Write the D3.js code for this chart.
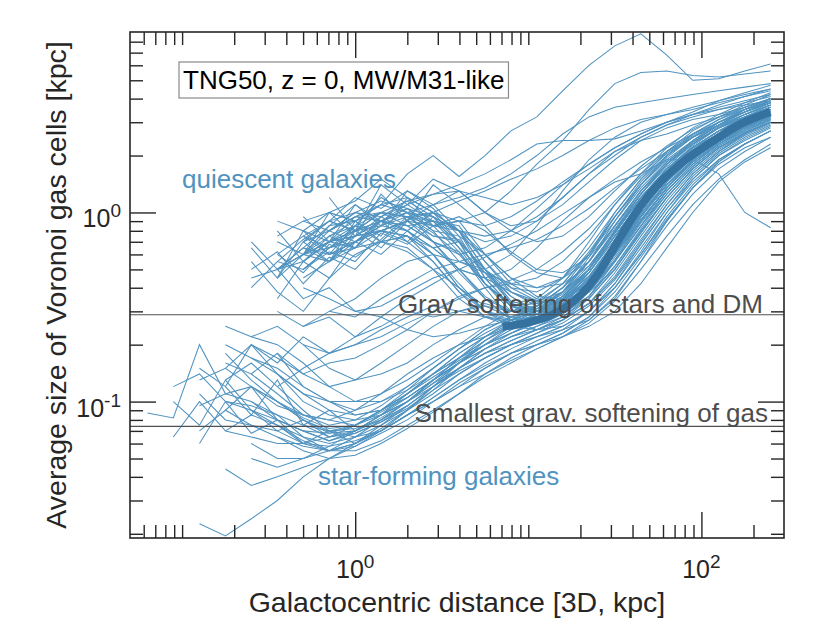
<!DOCTYPE html>
<html><head><meta charset="utf-8">
<script src="https://cdn.jsdelivr.net/npm/d3@7"></script>
<style>
body{margin:0;background:#fff}
svg text{font-family:"Liberation Sans",Arial,Helvetica,sans-serif}
</style>
</head><body>
<svg id="chart" width="830" height="642"></svg>
<script>
const _ = null;
// radial bin centres [kpc]
const radii = [0.063,0.089,0.126,0.178,0.251,0.355,0.501,0.708,1.0,1.41,2.0,2.82,3.98,5.62,7.94,11.2,15.8,22.4,31.6,44.7,63.1,89.1,126,178,251];

// average gas-cell size [kpc], quiescent MW/M31-like galaxies
const quiescent = [
[_,_,_,_,_,0.55,0.72,0.9,0.8,1.0,0.95,0.75,0.7,0.42,0.3,0.29,0.36,0.5,0.8,1.25,1.8,2.3,2.8,3.3,3.7],
[_,_,_,_,_,_,0.65,0.85,1.1,0.9,1.05,0.8,0.75,0.45,0.32,0.33,0.42,0.62,0.95,1.4,1.9,2.4,2.9,3.4,3.9],
[_,_,_,_,_,0.45,0.6,0.7,0.75,0.8,0.7,0.55,0.38,0.28,0.25,0.27,0.33,0.48,0.75,1.15,1.6,2.1,2.6,3.0,3.4],
[_,_,_,_,_,_,_,0.9,1.2,1.05,1.3,1.1,0.8,0.45,0.32,0.3,0.35,0.5,0.8,1.25,1.8,2.4,3.0,3.5,4.0],
[_,_,_,_,0.4,0.55,0.5,0.65,0.7,0.85,0.8,0.6,0.4,0.3,0.28,0.3,0.38,0.55,0.9,1.4,2.0,2.6,3.1,3.6,4.0],
[_,_,_,_,_,_,0.8,0.7,0.95,1.0,0.85,0.9,0.65,0.42,0.33,0.3,0.34,0.45,0.7,1.1,1.6,2.2,2.7,3.2,3.6],
[_,_,_,_,_,0.7,0.6,0.85,0.9,0.7,0.75,0.6,0.4,0.3,0.26,0.26,0.3,0.4,0.6,0.95,1.4,1.9,2.4,2.8,3.2],
[_,_,_,_,_,_,0.5,0.65,0.75,0.95,1.1,0.9,0.85,0.55,0.38,0.32,0.4,0.6,1.0,1.5,2.1,2.7,3.2,3.7,4.2],
[_,_,_,_,_,_,_,0.75,0.85,1.2,1.0,0.9,0.7,0.5,0.36,0.3,0.32,0.45,0.68,1.05,1.55,2.05,2.6,3.0,3.4],
[_,_,_,_,_,0.6,0.75,0.65,0.85,1.0,1.15,0.95,0.8,0.5,0.34,0.31,0.38,0.55,0.85,1.3,1.85,2.4,2.9,3.5,4.0],
[_,_,_,_,_,_,0.7,0.9,0.8,1.0,0.95,0.9,0.8,0.75,0.8,0.95,1.2,1.6,2.0,2.5,2.9,3.3,3.7,4.1,4.4],
[_,_,_,_,_,_,_,0.8,0.95,1.1,1.6,2.0,1.55,2.0,2.7,3.2,4.4,6.0,7.6,8.8,6.8,5.0,5.1,5.6,6.1],
[_,_,_,_,_,_,0.6,0.75,0.9,1.0,0.95,0.85,0.9,1.0,1.3,1.8,2.4,3.5,4.8,5.5,5.6,5.3,5.2,5.4,5.6],
[_,_,_,_,_,0.5,0.6,0.7,0.8,0.9,0.85,0.7,0.6,0.65,0.8,1.05,1.4,1.8,2.2,2.6,3.0,3.4,3.9,4.3,4.7],
[_,_,_,_,_,_,0.9,1.0,1.15,1.5,1.2,1.0,0.8,0.7,0.75,0.9,1.2,1.6,2.1,2.4,2.6,2.9,3.2,3.5,3.8],
[_,_,_,_,_,_,_,0.7,0.8,0.9,1.0,0.8,0.55,0.5,0.6,0.85,1.3,1.9,2.5,3.0,3.3,3.6,3.9,4.2,4.5],
[_,_,_,_,_,0.5,0.65,0.6,0.7,0.8,0.75,0.6,0.42,0.3,0.25,0.24,0.27,0.35,0.5,0.8,1.2,1.7,2.2,2.6,3.0],
[_,_,_,_,_,_,0.6,0.8,0.7,0.9,0.85,0.7,0.5,0.36,0.3,0.28,0.3,0.38,0.56,0.9,1.35,1.9,2.4,2.8,3.2],
[_,_,_,_,_,_,_,1.0,0.9,1.1,1.2,1.0,0.7,0.42,0.32,0.28,0.3,0.4,0.6,0.95,1.45,2.0,2.6,3.1,3.5],
[_,_,_,_,0.45,0.5,0.6,0.55,0.75,0.8,0.9,0.85,0.62,0.42,0.32,0.3,0.33,0.45,0.7,1.1,1.6,2.1,2.6,3.0,3.3],
[_,_,_,_,_,_,0.55,0.7,0.85,0.8,0.9,0.75,0.72,0.48,0.33,0.3,0.32,0.4,0.6,1.0,1.5,2.0,2.5,3.0,3.5],
[_,_,_,_,_,0.75,0.9,0.8,1.0,1.15,1.05,0.85,0.8,0.5,0.33,0.35,0.45,0.7,1.1,1.6,2.2,2.8,3.3,3.8,4.3],
[_,_,_,_,_,_,0.45,0.55,0.65,0.7,0.75,0.65,0.5,0.35,0.27,0.24,0.25,0.3,0.42,0.65,1.0,1.45,1.9,2.3,2.7],
[_,_,_,_,_,_,_,0.65,0.75,0.9,1.05,0.95,0.8,0.6,0.45,0.36,0.35,0.42,0.6,0.9,1.35,1.9,2.5,3.0,3.5],
[_,_,_,_,_,0.9,0.8,1.0,0.9,1.1,1.0,0.7,0.62,0.4,0.27,0.28,0.34,0.5,0.8,1.2,1.7,2.2,2.6,3.0,3.4],
[_,_,_,_,_,_,0.7,0.8,0.95,0.9,0.8,0.65,0.5,0.45,0.5,0.65,0.9,1.2,1.45,1.6,1.9,1.9,1.6,1.0,0.83],
[_,_,_,_,_,_,0.6,0.65,0.8,0.85,1.0,0.95,0.7,0.5,0.4,0.38,0.45,0.65,1.0,1.5,2.0,2.5,2.9,3.2,3.5],
[_,_,_,_,_,_,0.55,0.7,0.75,0.9,1.0,1.1,1.2,1.35,1.6,2.0,2.6,3.2,3.6,3.8,4.0,4.2,4.4,4.6,4.8],
[_,_,_,_,_,_,_,0.8,1.0,0.9,1.1,1.25,1.3,1.2,1.1,1.2,1.4,1.7,2.1,2.5,2.9,3.2,3.5,3.8,4.1],
[_,_,_,_,_,0.5,0.55,0.7,0.65,0.8,0.9,0.7,0.48,0.35,0.3,0.3,0.36,0.5,0.78,1.2,1.7,2.2,2.7,3.2,3.6],
[_,_,_,_,_,_,0.75,0.9,1.0,0.95,1.15,1.25,1.4,1.6,1.9,2.3,2.4,2.4,2.45,2.7,3.0,3.3,3.5,3.7,3.9],
[_,_,_,_,_,_,_,0.6,0.7,0.85,0.95,1.0,0.9,0.85,0.95,1.15,1.45,1.8,2.2,2.6,3.0,3.3,3.6,3.9,4.2],
[_,_,_,_,0.7,0.5,0.65,0.55,0.7,0.8,0.75,0.55,0.38,0.3,0.27,0.28,0.34,0.48,0.75,1.15,1.65,2.2,2.7,3.1,3.5],
[_,_,_,_,0.55,0.38,0.3,0.45,0.6,0.7,0.65,0.5,0.35,0.28,0.26,0.29,0.38,0.58,0.95,1.45,2.0,2.5,3.0,3.4,3.8],
[_,_,_,_,_,0.45,0.7,0.55,0.9,0.75,1.2,0.85,0.9,0.6,0.42,0.35,0.33,0.4,0.6,0.95,1.45,2.0,2.5,3.0,3.4],
[_,_,_,_,_,_,0.95,0.7,1.1,0.85,1.3,1.05,0.75,0.6,0.45,0.4,0.42,0.52,0.78,1.2,1.7,2.2,2.7,3.2,3.7],
[_,_,_,_,0.65,0.45,0.8,0.6,0.65,0.9,0.7,0.95,0.65,0.48,0.36,0.3,0.3,0.36,0.52,0.82,1.25,1.75,2.25,2.7,3.1],
[_,_,_,_,_,0.35,0.55,0.45,0.7,0.6,0.8,0.65,0.7,0.5,0.38,0.33,0.34,0.42,0.62,0.98,1.45,1.95,2.45,2.9,3.3],
[_,_,_,_,_,_,0.6,1.0,0.75,1.25,0.9,1.4,1.1,0.85,0.6,0.48,0.45,0.55,0.82,1.25,1.75,2.3,2.85,3.3,3.8],
[_,_,_,_,_,_,_,1.2,0.8,1.4,1.1,1.5,1.3,1.0,0.8,0.7,0.75,0.95,1.3,1.75,2.25,2.75,3.2,3.6,4.0],
[_,_,_,_,0.5,0.62,0.42,0.58,0.5,0.7,0.62,0.5,0.4,0.32,0.28,0.27,0.3,0.38,0.56,0.88,1.3,1.8,2.3,2.75,3.15],
[_,_,_,_,_,0.8,0.55,0.75,0.65,0.95,0.8,1.0,0.8,0.55,0.4,0.34,0.33,0.38,0.5,0.78,1.2,1.7,2.2,2.65,3.05],
[_,_,_,_,_,_,0.5,0.62,0.55,0.78,0.68,0.85,0.95,0.8,0.62,0.5,0.48,0.58,0.85,1.3,1.8,2.35,2.9,3.4,3.9],
[_,_,_,_,_,0.6,0.48,0.68,0.58,0.72,0.95,0.78,0.6,0.42,0.32,0.29,0.31,0.4,0.6,0.95,1.4,1.9,2.45,2.95,3.4],
[_,_,_,_,_,_,0.75,0.6,0.85,0.7,0.92,1.0,1.15,1.3,1.5,1.7,2.0,2.4,2.8,3.1,3.3,3.5,3.8,4.1,4.5],
[_,_,_,_,_,_,_,0.55,0.8,0.65,0.9,1.1,1.3,1.0,0.85,0.9,1.1,1.45,1.9,2.4,2.8,3.1,3.3,3.6,4.0]
];

// galaxies with intermediate inner profiles
const intermediate = [
[_,_,_,_,_,0.3,0.25,0.28,0.22,0.25,0.3,0.28,0.3,0.33,0.3,0.32,0.4,0.55,0.85,1.3,1.8,2.3,2.8,3.2,3.6],
[_,_,_,_,0.2,0.16,0.22,0.18,0.2,0.24,0.28,0.32,0.3,0.28,0.27,0.3,0.36,0.48,0.72,1.1,1.6,2.1,2.6,3.0,3.4],
[_,_,_,_,_,_,0.4,0.35,0.3,0.32,0.38,0.45,0.5,0.45,0.38,0.34,0.38,0.5,0.78,1.2,1.7,2.2,2.7,3.1,3.5],
[_,_,_,_,_,0.18,0.14,0.16,0.17,0.2,0.24,0.3,0.36,0.4,0.42,0.45,0.55,0.75,1.1,1.55,2.05,2.55,3.0,3.4,3.8],
[_,_,_,_,_,_,_,0.3,0.28,0.35,0.42,0.5,0.55,0.6,0.65,0.72,0.85,1.05,1.35,1.7,2.1,2.5,2.9,3.3,3.7],
[_,_,_,0.15,0.2,0.17,0.14,0.12,0.13,0.16,0.2,0.25,0.3,0.32,0.3,0.31,0.35,0.46,0.7,1.05,1.5,2.0,2.5,2.9,3.2],
[_,_,_,_,_,0.5,0.35,0.4,0.3,0.28,0.24,0.22,0.23,0.25,0.27,0.3,0.34,0.42,0.62,0.95,1.4,1.9,2.4,2.8,3.2],
[_,_,_,_,_,_,0.25,0.3,0.35,0.45,0.55,0.6,0.55,0.48,0.42,0.4,0.45,0.6,0.9,1.35,1.85,2.35,2.8,3.2,3.6],
[_,_,_,_,_,0.12,0.15,0.18,0.22,0.28,0.35,0.42,0.5,0.58,0.68,0.8,0.98,1.2,1.5,1.85,2.2,2.6,3.0,3.4,3.8],
[_,_,_,_,_,_,0.2,0.18,0.2,0.22,0.26,0.3,0.35,0.4,0.44,0.5,0.62,0.82,1.15,1.6,2.1,2.6,3.1,3.5,3.9]
];

// average gas-cell size [kpc], star-forming MW/M31-like galaxies
const starForming = [
[0.087,0.082,0.2,0.11,0.12,0.095,0.085,0.08,0.09,0.11,0.14,0.17,0.2,0.22,0.25,0.28,0.33,0.45,0.7,1.1,1.6,2.1,2.6,3.0,3.4],
[_,0.065,0.1,0.07,0.085,0.075,0.065,0.06,0.065,0.075,0.09,0.11,0.14,0.17,0.2,0.23,0.27,0.33,0.45,0.7,1.1,1.6,2.1,2.6,3.0],
[_,_,0.13,0.15,0.12,0.1,0.085,0.075,0.08,0.095,0.12,0.15,0.19,0.23,0.27,0.3,0.36,0.5,0.8,1.2,1.7,2.2,2.7,3.1,3.5],
[_,_,0.0226,0.0195,0.024,0.03,0.04,0.05,0.06,0.072,0.09,0.115,0.15,0.18,0.2,0.22,0.24,0.27,0.35,0.55,0.9,1.35,1.8,2.2,2.5],
[_,_,_,0.044,0.036,0.04,0.045,0.05,0.058,0.07,0.085,0.1,0.125,0.15,0.18,0.2,0.23,0.28,0.4,0.62,1.0,1.5,2.0,2.4,2.8],
[_,_,_,0.13,0.16,0.12,0.09,0.07,0.065,0.07,0.085,0.105,0.13,0.16,0.19,0.22,0.25,0.3,0.4,0.6,0.95,1.4,1.9,2.3,2.7],
[_,_,_,_,0.1,0.085,0.065,0.055,0.058,0.068,0.08,0.1,0.12,0.15,0.18,0.21,0.24,0.3,0.42,0.68,1.05,1.55,2.05,2.5,2.9],
[_,_,0.095,0.11,0.1,0.08,0.07,0.062,0.07,0.085,0.11,0.14,0.18,0.22,0.26,0.3,0.36,0.48,0.75,1.15,1.65,2.15,2.6,3.05,3.4],
[_,_,_,0.2,0.17,0.14,0.11,0.09,0.085,0.09,0.11,0.14,0.17,0.21,0.25,0.29,0.35,0.46,0.7,1.05,1.5,2.0,2.5,2.9,3.3],
[_,_,_,_,_,0.075,0.06,0.055,0.06,0.075,0.095,0.12,0.15,0.18,0.21,0.24,0.28,0.36,0.55,0.85,1.3,1.8,2.3,2.7,3.1],
[_,_,_,0.16,0.14,0.18,0.12,0.1,0.09,0.1,0.12,0.15,0.19,0.24,0.28,0.31,0.37,0.5,0.78,1.2,1.7,2.25,2.8,3.3,3.7],
[_,_,_,_,0.09,0.075,0.062,0.055,0.055,0.062,0.075,0.09,0.11,0.135,0.16,0.19,0.22,0.26,0.34,0.5,0.75,1.1,1.5,1.9,2.3],
[_,_,_,_,0.06,0.05,0.05,0.055,0.065,0.08,0.1,0.13,0.16,0.2,0.23,0.26,0.3,0.38,0.58,0.9,1.35,1.85,2.35,2.8,3.2],
[_,_,_,0.25,0.22,0.2,0.16,0.12,0.1,0.1,0.115,0.14,0.18,0.22,0.27,0.32,0.4,0.55,0.85,1.25,1.8,2.3,2.8,3.2,3.6],
[_,_,_,_,_,0.1,0.08,0.07,0.075,0.09,0.11,0.14,0.17,0.2,0.23,0.26,0.3,0.38,0.55,0.85,1.25,1.75,2.25,2.7,3.1],
[_,_,0.11,0.08,0.075,0.07,0.06,0.058,0.062,0.07,0.085,0.105,0.13,0.155,0.18,0.2,0.22,0.25,0.3,0.42,0.65,1.0,1.45,1.85,2.2],
[_,_,_,_,0.17,0.15,0.12,0.1,0.1,0.11,0.13,0.16,0.2,0.25,0.3,0.34,0.42,0.6,0.95,1.4,1.95,2.5,3.0,3.5,3.9],
[_,_,_,0.07,0.065,0.06,0.06,0.065,0.075,0.09,0.11,0.135,0.165,0.2,0.24,0.27,0.31,0.4,0.6,0.92,1.35,1.85,2.3,2.75,3.1],
[_,_,_,_,0.12,0.1,0.08,0.068,0.07,0.082,0.1,0.125,0.15,0.18,0.21,0.24,0.27,0.33,0.46,0.72,1.1,1.6,2.1,2.55,2.95],
[_,_,_,_,_,_,0.075,0.065,0.068,0.078,0.095,0.12,0.15,0.19,0.23,0.27,0.33,0.45,0.7,1.05,1.5,2.0,2.5,3.0,3.4],
[_,_,_,0.1,0.095,0.085,0.075,0.07,0.072,0.08,0.095,0.12,0.16,0.21,0.26,0.3,0.35,0.44,0.64,0.98,1.45,1.95,2.45,2.9,3.3],
[_,_,_,_,0.22,0.25,0.2,0.15,0.13,0.14,0.16,0.2,0.24,0.28,0.3,0.32,0.38,0.52,0.8,1.2,1.7,2.2,2.7,3.1,3.5],
[_,_,_,_,_,0.065,0.055,0.05,0.052,0.06,0.072,0.088,0.11,0.14,0.17,0.2,0.23,0.28,0.38,0.58,0.9,1.35,1.85,2.3,2.7],
[_,0.12,0.14,0.1,0.09,0.08,0.07,0.068,0.075,0.09,0.115,0.15,0.19,0.24,0.28,0.32,0.38,0.5,0.75,1.12,1.6,2.1,2.6,3.0,3.4],
[_,_,_,0.12,0.085,0.13,0.075,0.09,0.07,0.085,0.1,0.13,0.17,0.21,0.25,0.28,0.32,0.42,0.62,0.95,1.4,1.9,2.4,2.85,3.2],
[_,_,0.06,0.1,0.068,0.08,0.06,0.07,0.06,0.07,0.09,0.12,0.15,0.19,0.22,0.25,0.29,0.36,0.52,0.8,1.2,1.7,2.2,2.65,3.0],
[_,_,0.15,0.12,0.2,0.14,0.11,0.1,0.085,0.09,0.105,0.13,0.16,0.2,0.24,0.27,0.31,0.38,0.55,0.85,1.3,1.8,2.3,2.8,3.2],
[_,0.1,0.075,0.13,0.09,0.07,0.08,0.065,0.07,0.08,0.1,0.13,0.17,0.22,0.27,0.3,0.34,0.43,0.62,0.95,1.4,1.9,2.4,2.85,3.25],
[_,_,_,_,0.14,0.11,0.085,0.08,0.075,0.085,0.1,0.12,0.145,0.17,0.2,0.22,0.25,0.3,0.4,0.6,0.92,1.35,1.85,2.3,2.7],
[_,_,_,0.09,0.12,0.08,0.07,0.062,0.068,0.078,0.092,0.115,0.14,0.17,0.2,0.23,0.26,0.32,0.44,0.68,1.05,1.5,2.0,2.45,2.85],
[_,_,_,_,_,0.14,0.1,0.085,0.08,0.085,0.1,0.125,0.16,0.2,0.25,0.29,0.33,0.41,0.6,0.9,1.35,1.85,2.35,2.8,3.2],
[_,_,_,0.18,0.13,0.1,0.082,0.072,0.075,0.088,0.105,0.13,0.16,0.19,0.22,0.25,0.28,0.35,0.5,0.78,1.2,1.7,2.2,2.65,3.0],
[_,_,0.07,0.09,0.075,0.065,0.058,0.055,0.06,0.07,0.085,0.1,0.12,0.14,0.165,0.19,0.22,0.27,0.36,0.55,0.85,1.25,1.7,2.1,2.5],
[_,_,_,_,0.05,0.045,0.05,0.058,0.07,0.085,0.105,0.13,0.16,0.19,0.22,0.24,0.27,0.33,0.48,0.75,1.15,1.65,2.15,2.6,3.0]
];

// median profile of all galaxies
const medianRadii = [7.1,10.3,13.4,20,26.1,34,44.4,58,78.7,117,168,250];
const medianSize  = [0.249,0.264,0.285,0.365,0.495,0.74,1.08,1.45,1.86,2.39,2.93,3.4];

// reference scales [kpc]
const softeningStarsDM = 0.288;
const softeningGasMin = 0.074;

const xTickLabels = [{v:1, base:"10", exp:"0"}, {v:100, base:"10", exp:"2"}];
const yTickLabels = [{v:0.1, base:"10", exp:"-1"}, {v:1, base:"10", exp:"0"}];
const xMajor = [1, 100];
const yMajor = [0.1, 1];

const L = 130, R = 784, T = 32, B = 538;
const thin = "#5093c0", thick = "#3672a0", axisCol = "#262626";

const svg = d3.select("#chart");
const x = d3.scaleLog().domain([0.05, 300]).range([L, R]);
const y = d3.scaleLog().domain([0.019, 9]).range([B, T]);

svg.append("defs").append("clipPath").attr("id","clip")
  .append("rect").attr("x",L).attr("y",T).attr("width",R-L).attr("height",B-T);

const plot = svg.append("g").attr("clip-path","url(#clip)");

const line = d3.line()
  .defined(d => d[1] != null)
  .x(d => x(d[0])).y(d => y(d[1]));

const all = starForming.concat(intermediate, quiescent);
plot.selectAll("path.gal").data(all).join("path")
  .attr("class","gal")
  .attr("d", row => line(row.map((v,i) => [radii[i], v])))
  .attr("fill","none").attr("stroke",thin).attr("stroke-width",1.05);

const medLine = d3.line().curve(d3.curveMonotoneX).x(d => x(d[0])).y(d => y(d[1]));
plot.append("path")
  .attr("d", medLine(medianRadii.map((r,i) => [r, medianSize[i]])))
  .attr("fill","none").attr("stroke",thick).attr("stroke-width",8).attr("stroke-linecap","butt");

// softening lines
[softeningStarsDM, softeningGasMin].forEach(v => {
  svg.append("line").attr("x1",L).attr("x2",R).attr("y1",y(v)).attr("y2",y(v))
    .attr("stroke","#505050").attr("stroke-width",1.1);
});
svg.append("text").attr("x",763).attr("y",y(softeningStarsDM)-2).attr("text-anchor","end")
  .attr("font-size",26).attr("fill","#4d4d4d").text("Grav. softening of stars and DM");
svg.append("text").attr("x",768).attr("y",y(softeningGasMin)-4).attr("text-anchor","end")
  .attr("font-size",26).attr("fill","#4d4d4d").text("Smallest grav. softening of gas");

// population labels
svg.append("text").attr("x",182).attr("y",188).attr("font-size",26).attr("fill",thin).text("quiescent galaxies");
svg.append("text").attr("x",318).attr("y",485).attr("font-size",26).attr("fill",thin).text("star-forming galaxies");

// title box
const tt = svg.append("text").attr("x",183).attr("y",89).attr("font-size",26).attr("fill","#000")
  .text("TNG50, z = 0, MW/M31-like");
const bb = tt.node().getBBox();
svg.insert("rect", "text").attr("x",179).attr("y",62).attr("width",bb.width+8).attr("height",36)
  .attr("fill","#fff").attr("stroke","#8a8a8a").attr("stroke-width",1.2);

// axes ticks
const inside = (s, v) => { const d = s.domain(); return v > d[0]*1.001 && v < d[1]*0.999; };
const xMinor = x.ticks().filter(v => inside(x,v) && !xMajor.some(m => Math.abs(m-v)/m < 1e-6));
const yMinor = y.ticks().filter(v => inside(y,v) && !yMajor.some(m => Math.abs(m-v)/m < 1e-6));

function styleAxis(g){
  g.select(".domain").remove();
  g.selectAll("line").attr("stroke",axisCol).attr("stroke-width",1.4);
  g.selectAll("text").remove();
}
const axes = [
  [d3.axisBottom(x), `translate(0,${B})`, xMinor, xMajor],
  [d3.axisTop(x), `translate(0,${T})`, xMinor, xMajor],
  [d3.axisLeft(y), `translate(${L},0)`, yMinor, yMajor],
  [d3.axisRight(y), `translate(${R},0)`, yMinor, yMajor]
];
axes.forEach(([ax, tr, mn, mj]) => {
  svg.append("g").attr("transform",tr).call(ax.tickValues(mn).tickSize(-13).tickFormat("")).call(styleAxis);
  svg.append("g").attr("transform",tr).call(ax.tickValues(mj).tickSize(-26).tickFormat("")).call(styleAxis);
});

svg.append("rect").attr("x",L).attr("y",T).attr("width",R-L).attr("height",B-T)
  .attr("fill","none").attr("stroke",axisCol).attr("stroke-width",1.6);

// tick labels
function sci(t, d){
  t.append("tspan").text(d.base);
  t.append("tspan").attr("dy",-10).attr("font-size",19).text(d.exp);
}
xTickLabels.forEach(d => {
  const t = svg.append("text").attr("x",x(d.v)).attr("y",578).attr("text-anchor","middle")
    .attr("font-size",25).attr("fill",axisCol);
  sci(t,d);
});
yTickLabels.forEach(d => {
  const t = svg.append("text").attr("x",121).attr("y",y(d.v)+15).attr("text-anchor","end")
    .attr("font-size",25).attr("fill",axisCol);
  sci(t,d);
});

// axis titles
svg.append("text").attr("x",(L+R)/2).attr("y",612).attr("text-anchor","middle")
  .attr("font-size",28.5).attr("fill",axisCol).text("Galactocentric distance [3D, kpc]");
svg.append("text").attr("transform",`translate(66,${(T+B)/2}) rotate(-90)`).attr("text-anchor","middle")
  .attr("font-size",28.5).attr("fill",axisCol).text("Average size of Voronoi gas cells [kpc]");
</script>
</body></html>
